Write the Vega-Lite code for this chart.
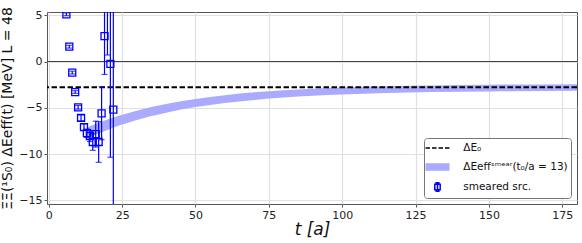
{
  "$schema": "https://vega.github.io/schema/vega-lite/v6.json",
  "width": 530,
  "height": 192,
  "autosize": {"type": "none"},
  "padding": {"left": 47, "top": 12, "right": 5, "bottom": 39},
  "config": {
    "font": "DejaVu Sans",
    "view": {"stroke": "#555", "strokeWidth": 1},
    "axis": {
      "grid": true, "gridColor": "#e0e0e0", "gridWidth": 1.2, "domain": false,
      "tickColor": "#555", "tickSize": 3, "labelFontSize": 11, "labelColor": "#222",
      "labelPadding": 2, "labelFlush": false, "titleFontWeight": "normal", "titleColor": "#111"
    }
  },
  "datasets": {
    "pts": [
      {"t": 6, "v": 5.1, "lo": 4.95, "hi": 5.25},
      {"t": 7, "v": 1.6, "lo": 1.45, "hi": 1.75},
      {"t": 8, "v": -1.2, "lo": -1.35, "hi": -1.05},
      {"t": 9, "v": -3.3, "lo": -3.45, "hi": -3.15},
      {"t": 10, "v": -4.95, "lo": -5.15, "hi": -4.75},
      {"t": 11, "v": -6.1, "lo": -6.4, "hi": -5.8},
      {"t": 12, "v": -7.1, "lo": -7.45, "hi": -6.75},
      {"t": 13, "v": -7.75, "lo": -8.2, "hi": -7.3},
      {"t": 14, "v": -8.05, "lo": -8.65, "hi": -7.45},
      {"t": 15, "v": -8.7, "lo": -9.6, "hi": -7.8},
      {"t": 16, "v": -7.85, "lo": -9.25, "hi": -6.45},
      {"t": 17, "v": -8.7, "lo": -10.9, "hi": -6.5},
      {"t": 18, "v": -5.6, "lo": -8.45, "hi": -2.75},
      {"t": 19, "v": 2.75, "lo": -1.4, "hi": 6.9},
      {"t": 20, "v": 9.0, "lo": 0.7, "hi": 17.3},
      {"t": 21, "v": -0.25, "lo": -10.35, "hi": 9.85},
      {"t": 22, "v": -5.2, "lo": -17.2, "hi": 6.8}
    ],
    "band": [
      {"t": 13, "lo": -8.35, "hi": -7.13},
      {"t": 15, "lo": -8.06, "hi": -6.86},
      {"t": 17, "lo": -7.78, "hi": -6.62},
      {"t": 20, "lo": -7.40, "hi": -6.28},
      {"t": 25, "lo": -6.82, "hi": -5.76},
      {"t": 30, "lo": -6.33, "hi": -5.31},
      {"t": 35, "lo": -5.90, "hi": -4.92},
      {"t": 40, "lo": -5.53, "hi": -4.59},
      {"t": 50, "lo": -4.93, "hi": -4.05},
      {"t": 60, "lo": -4.48, "hi": -3.64},
      {"t": 70, "lo": -4.15, "hi": -3.33},
      {"t": 80, "lo": -3.89, "hi": -3.11},
      {"t": 90, "lo": -3.70, "hi": -2.94},
      {"t": 100, "lo": -3.56, "hi": -2.80},
      {"t": 115, "lo": -3.41, "hi": -2.67},
      {"t": 130, "lo": -3.30, "hi": -2.58},
      {"t": 150, "lo": -3.23, "hi": -2.51},
      {"t": 180, "lo": -3.17, "hi": -2.45}
    ],
    "zero": [{"y0": 0}],
    "e0": [{"e": -2.77}]
  },
  "encoding": {
    "x": {
      "field": "t", "type": "quantitative",
      "scale": {"domain": [-0.6, 180], "nice": false, "zero": false},
      "axis": {"values": [0, 25, 50, 75, 100, 125, 150, 175], "title": "t [a]", "titleFontSize": 17, "titleFontStyle": "italic", "titlePadding": 1}
    }
  },
  "layer": [
    {
      "data": {"name": "zero"},
      "mark": {"type": "rule", "color": "#444", "strokeWidth": 1.2},
      "encoding": {
        "x": null,
        "y": {"field": "y0", "type": "quantitative", "scale": {"domain": [-15.4, 5.35], "nice": false, "zero": false},
              "axis": {"values": [-15, -10, -5, 0, 5], "title": "ΞΞ(¹S₀) ΔEeff(t) [MeV] L = 48", "titleFontSize": 14, "titlePadding": 4}}
      }
    },
    {
      "data": {"name": "band"},
      "mark": {"type": "area", "color": "#aaaaff", "interpolate": "monotone"},
      "encoding": {
        "y": {"field": "lo", "type": "quantitative",
              "axis": {"values": [-15, -10, -5, 0, 5], "title": "ΞΞ(¹S₀) ΔEeff(t) [MeV] L = 48", "titleFontSize": 14, "titlePadding": 4}},
        "y2": {"field": "hi"}
      }
    },
    {
      "data": {"name": "e0"},
      "mark": {"type": "rule", "color": "black", "strokeWidth": 2, "strokeDash": [5.5, 2.5]},
      "encoding": {"x": null, "y": {"field": "e", "type": "quantitative",
              "axis": {"values": [-15, -10, -5, 0, 5], "title": "ΞΞ(¹S₀) ΔEeff(t) [MeV] L = 48", "titleFontSize": 14, "titlePadding": 4}}}
    },
    {
      "data": {"name": "pts"},
      "mark": {"type": "rule", "color": "blue", "strokeWidth": 1.2, "clip": true},
      "encoding": {
        "y": {"field": "lo", "type": "quantitative",
              "axis": {"values": [-15, -10, -5, 0, 5], "title": "ΞΞ(¹S₀) ΔEeff(t) [MeV] L = 48", "titleFontSize": 14, "titlePadding": 4}},
        "y2": {"field": "hi"}
      }
    },
    {
      "data": {"name": "pts"},
      "mark": {"type": "tick", "orient": "horizontal", "size": 6, "thickness": 1.2, "color": "blue", "clip": true},
      "encoding": {"y": {"field": "lo", "type": "quantitative",
              "axis": {"values": [-15, -10, -5, 0, 5], "title": "ΞΞ(¹S₀) ΔEeff(t) [MeV] L = 48", "titleFontSize": 14, "titlePadding": 4}}}
    },
    {
      "data": {"name": "pts"},
      "mark": {"type": "tick", "orient": "horizontal", "size": 6, "thickness": 1.2, "color": "blue", "clip": true},
      "encoding": {"y": {"field": "hi", "type": "quantitative",
              "axis": {"values": [-15, -10, -5, 0, 5], "title": "ΞΞ(¹S₀) ΔEeff(t) [MeV] L = 48", "titleFontSize": 14, "titlePadding": 4}}}
    },
    {
      "data": {"name": "pts"},
      "mark": {"type": "point", "shape": "square", "filled": false, "size": 49, "strokeWidth": 1.3, "opacity": 1, "clip": true},
      "encoding": {
        "y": {"field": "v", "type": "quantitative",
              "axis": {"values": [-15, -10, -5, 0, 5], "title": "ΞΞ(¹S₀) ΔEeff(t) [MeV] L = 48", "titleFontSize": 14, "titlePadding": 4}},
        "color": {
          "datum": "smeared src.",
          "scale": {"domain": ["ΔE₀", "ΔEeffˢᵐᵉᵃʳ(t₀/a = 13)", "smeared src."], "range": ["black", "#aaaaff", "blue"]},
          "legend": {
            "title": null,
            "orient": "bottom-right",
            "offset": 6,
            "padding": 3,
            "fillColor": "white",
            "strokeColor": "#777",
            "cornerRadius": 3,
            "labelFont": "DejaVu Sans",
            "labelFontSize": 10.5,
            "labelColor": "#111",
            "labelOffset": 18.7,
            "symbolSize": 144,
            "symbolOffset": 3.5,
            "symbolStrokeWidth": 1.5,
            "symbolOpacity": 1,
            "rowPadding": 6,
            "symbolType": {"expr": "datum.index === 0 ? 'M-2,0H2' : datum.index === 1 ? 'M-2,-0.5H2M-2,-0.25H2M-2,0H2M-2,0.25H2M-2,0.5H2' : 'M-0.45,-0.45H0.45V0.45H-0.45Z M0,-0.7V0.7 M-0.35,-0.7H0.35 M-0.35,0.7H0.35'"},
            "symbolDash": {"expr": "datum.index === 0 ? [4.5, 2] : [1, 0]"}
          }
        }
      }
    }
  ]
}
